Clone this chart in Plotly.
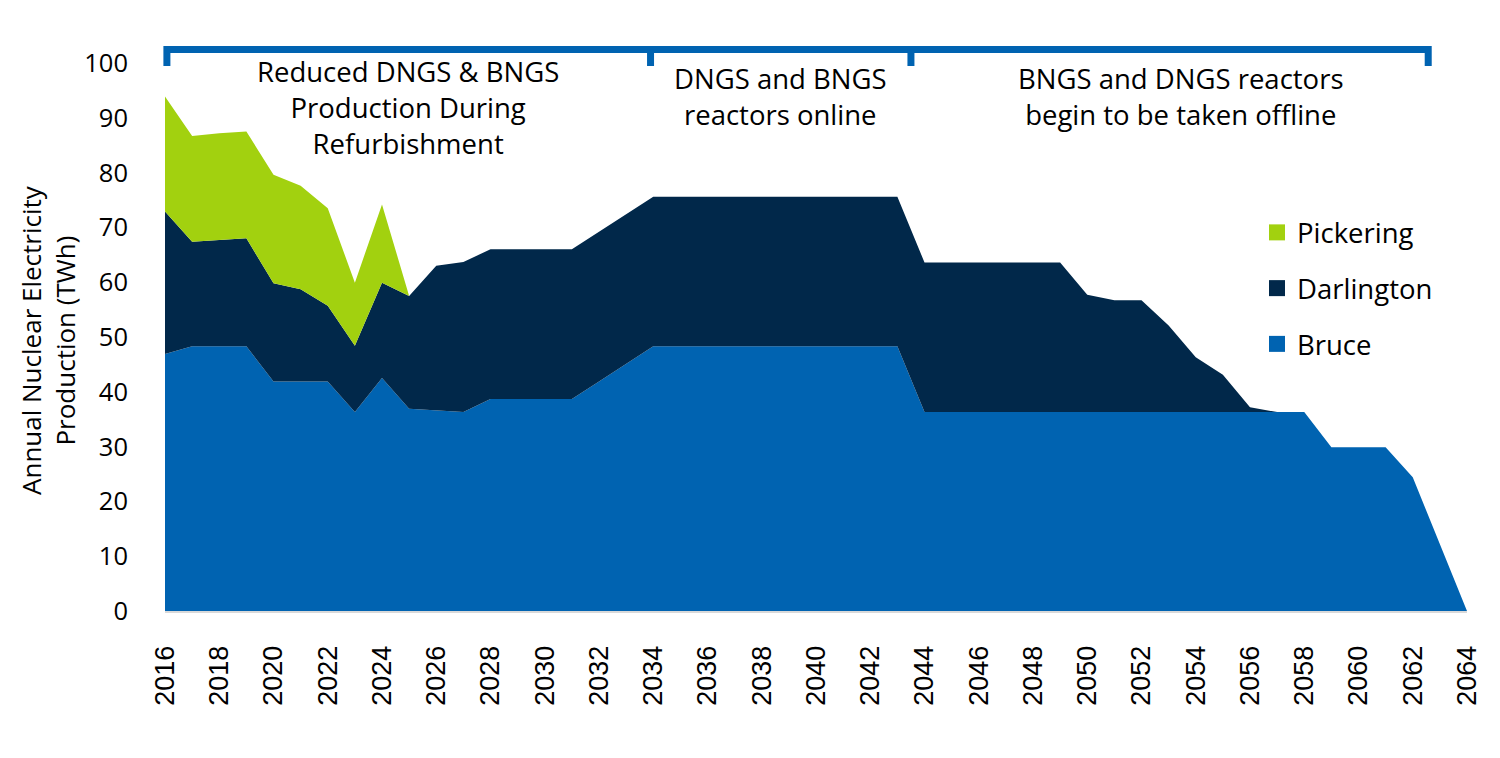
import plotly.graph_objects as go

# --- Data (TWh) ---
years = list(range(2016, 2065))

bruce = [46.9, 48.3, 48.3, 48.3, 41.9, 41.9, 41.9, 36.3, 42.5, 36.9,
         36.6, 36.3, 38.7, 38.7, 38.7, 38.7, 41.9, 45.1,
         48.3, 48.3, 48.3, 48.3, 48.3, 48.3, 48.3, 48.3, 48.3, 48.3,
         36.3, 36.3, 36.3, 36.3, 36.3, 36.3, 36.3, 36.3, 36.3, 36.3,
         36.3, 36.3, 36.3, 36.3, 36.3,
         29.9, 29.9, 29.9, 24.4, 12.2, 0.0]

darlington = [26.0, 19.1, 19.4, 19.7, 17.9, 16.8, 13.8, 12.1, 17.4, 20.6,
              26.4, 27.4, 27.3, 27.3, 27.3, 27.3, 27.3, 27.3,
              27.3, 27.3, 27.3, 27.3, 27.3, 27.3, 27.3, 27.3, 27.3, 27.3,
              27.3, 27.3, 27.3, 27.3, 27.3, 27.3,
              21.4, 20.4, 20.4, 15.8, 10.0, 6.8, 0.9,
              0, 0, 0, 0, 0, 0, 0, 0]

pickering = [21.0, 19.3, 19.5, 19.5, 19.8, 18.9, 17.8, 11.5, 14.3] + [0] * 40

series_names = ["Bruce", "Darlington", "Pickering"]
series_colors = ["#0063B1", "#01284A", "#A2D10F"]

# bracket periods across the top (years where the bracket ticks drop)
bracket_ticks = [2016.07, 2033.9, 2043.5, 2062.57]
period_labels = [
    "Reduced DNGS & BNGS<br>Production During<br>Refurbishment",
    "DNGS and BNGS<br>reactors online",
    "BNGS and DNGS reactors<br>begin to be taken offline",
]
period_label_px = [408, 780, 1181]
period_label_py = [107, 96, 96]

# --- geometry (page has an 8px body margin, so shift the figure back) ---
W, H = 1500, 758
PAD = 8
L, T = 165, 63          # plot area corner as seen on the page
PW, PH = 1302, 548
margin = dict(l=L - PAD, t=T - PAD, r=W - (L - PAD) - PW, b=H - (T - PAD) - PH)


def xp(px):
    return (px - L) / PW


def yp(py):
    return (T + PH - py) / PH


def yr2paper(yr):
    return (yr - 2016) / 48


fig = go.Figure()

for name, vals, color in zip(series_names, [bruce, darlington, pickering], series_colors):
    fig.add_trace(go.Scatter(
        x=years, y=vals,
        mode="lines",
        line=dict(width=0, color=color),
        fillcolor=color,
        stackgroup="one",
        name=name,
        showlegend=False,
        hovertemplate=name + " %{x}: %{y:.1f} TWh<extra></extra>",
    ))

# legend entries drawn as square markers, top entry first
for name, color in zip(series_names[::-1], series_colors[::-1]):
    fig.add_trace(go.Scatter(
        x=[None], y=[None],
        mode="markers",
        marker=dict(symbol="square", size=18, color=color),
        name=name,
        legendgroup=name,
    ))

# bracket across the top
blue = "#0063B1"
y_top = yp(49.5)
y_bot = yp(66)
x0, x1, x2, x3 = [yr2paper(v) for v in bracket_ticks]
fig.add_shape(type="path", xref="paper", yref="paper",
              path=f"M {x0},{y_bot} L {x0},{y_top} L {x3},{y_top} L {x3},{y_bot}",
              line=dict(color=blue, width=7))
for xm in (x1, x2):
    fig.add_shape(type="line", xref="paper", yref="paper",
                  x0=xm, x1=xm, y0=y_top, y1=y_bot,
                  line=dict(color=blue, width=7))

for text, px, py in zip(period_labels, period_label_px, period_label_py):
    fig.add_annotation(text=text, xref="paper", yref="paper",
                       x=xp(px), y=yp(py), xanchor="center", yanchor="middle",
                       showarrow=False, align="center",
                       font=dict(family="Open Sans", size=27.5, color="#000000"))

# y-axis title
fig.add_annotation(text="Annual Nuclear Electricity<br>Production (TWh)",
                   xref="paper", yref="paper", x=xp(48), y=yp(340),
                   xanchor="center", yanchor="middle", textangle=-90,
                   showarrow=False, align="center",
                   font=dict(family="Open Sans", size=26, color="#000000"))

fig.update_layout(
    width=W, height=H,
    margin=margin,
    paper_bgcolor="#FFFFFF",
    plot_bgcolor="#FFFFFF",
    showlegend=True,
    legend=dict(x=xp(1257), y=yp(208), xanchor="left", yanchor="top",
                font=dict(family="Open Sans", size=27.5, color="#000000"),
                tracegroupgap=17, bgcolor="rgba(0,0,0,0)"),
    xaxis=dict(range=[2016, 2064], tickvals=list(range(2016, 2065, 2)),
               tickangle=-90, showgrid=False, zeroline=False,
               showline=True, linecolor="#D9D9D9", linewidth=2,
               ticklabelstandoff=22,
               tickfont=dict(family="Liberation Sans", size=27, color="#000000")),
    yaxis=dict(range=[0, 100], tickvals=list(range(0, 101, 10)),
               showgrid=False, zeroline=False, showline=False,
               ticklabelstandoff=36,
               tickfont=dict(family="Open Sans", size=25.5, color="#000000")),
)

fig.write_html("out.html")
